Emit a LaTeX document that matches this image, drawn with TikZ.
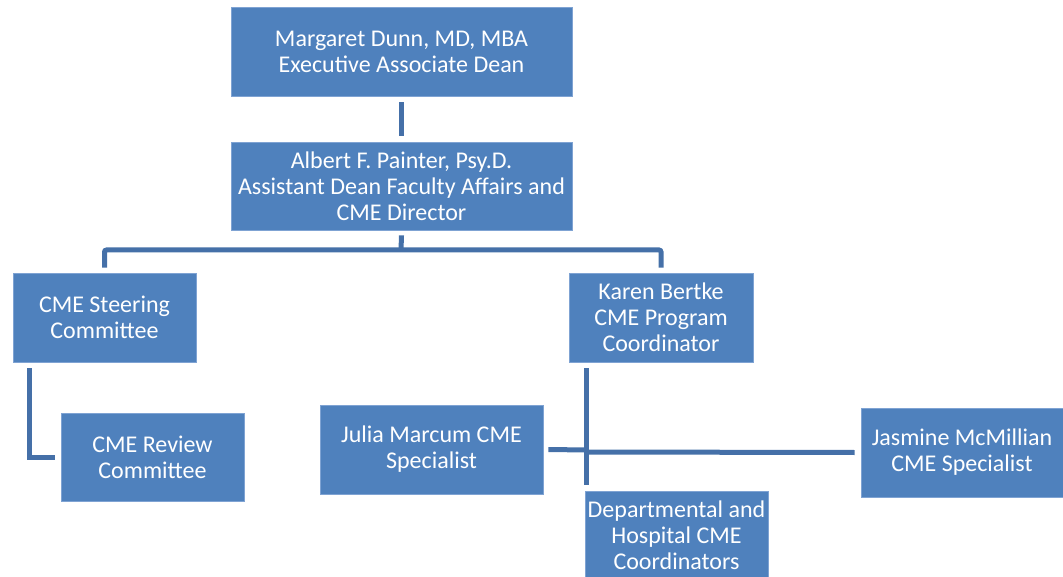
\documentclass[tikz,border=0pt]{standalone}
\usepackage{fontspec}
\setmainfont{Carlito}
\definecolor{boxfill}{HTML}{4F81BD}
\definecolor{boxedge}{HTML}{7FA3D3}
\definecolor{linkcol}{HTML}{4570A8}
\begin{document}
\begin{tikzpicture}[x=1pt,y=-1pt,
  orgbox/.style={rectangle, fill=boxfill, draw=boxedge, line width=0.8pt,
    text=white, align=center, inner sep=2pt,
    font=\fontsize{24}{26}\selectfont},
  conn/.style={draw=linkcol, line width=5pt}]
\useasboundingbox (0,0) rectangle (1063,577);
\begin{scope}
\clip (0,0) rectangle (1063,577);
% boxes
\node[orgbox, minimum width=341, minimum height=89] (md) at (401.5,51.5)
  {Margaret Dunn, MD, MBA\\Executive Associate Dean};
\node[orgbox, minimum width=341, minimum height=88] (ap) at (401.5,186)
  {Albert F. Painter, Psy.D.\\Assistant Dean Faculty Affairs and\\CME Director};
\node[orgbox, minimum width=183, minimum height=89] (sc) at (104.5,317.5)
  {CME Steering\\Committee};
\node[orgbox, minimum width=184, minimum height=89] (kb) at (661,317.5)
  {Karen Bertke\\CME Program\\Coordinator};
\node[orgbox, minimum width=183, minimum height=88] (rc) at (152.5,457)
  {CME Review\\Committee};
\node[orgbox, minimum width=223, minimum height=89] (jm) at (431.5,449.5)
  {Julia Marcum CME\\Specialist};
\node[orgbox, minimum width=202, minimum height=89] (jas) at (962,452.5)
  {Jasmine McMillian\\CME Specialist};
\node[orgbox, minimum width=183, minimum height=89] (dh) at (676.5,535.5)
  {Departmental and\\Hospital CME\\Coordinators};
\end{scope}
% connectors
\coordinate (bar) at (401,250);
\coordinate (ktop) at (586,368);
\coordinate (kbot) at (586,485);
\coordinate (kmidl) at (586,450);
\coordinate (kmidr) at (586,452);
\draw[conn] ([yshift=-6pt]md.south) -- ([yshift=6pt]ap.north);
\draw[conn] ([yshift=-5pt]ap.south) -- (bar);
\draw[conn, rounded corners=2pt] ([yshift=5pt]sc.north) |- (bar) -| ([yshift=5pt]kb.north);
\draw[conn] ([xshift=-75.5pt,yshift=-6pt]sc.south) |- ([xshift=-6pt]rc.west);
\draw[conn] (ktop) -- (kbot);
\draw[conn] ([xshift=5pt]jm.east) -- (kmidl);
\draw[conn] (kmidr) -- ([xshift=-6pt]jas.west);
\end{tikzpicture}
\end{document}
